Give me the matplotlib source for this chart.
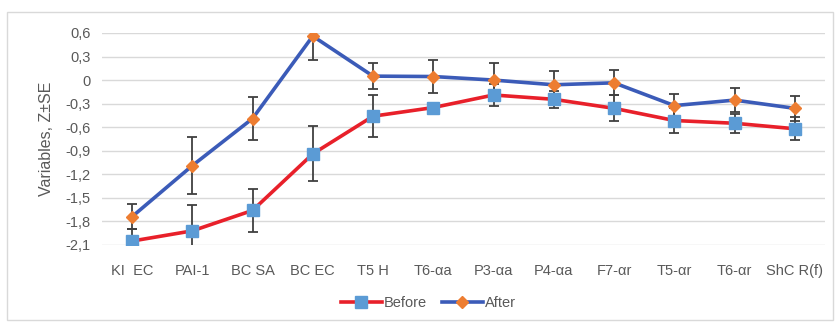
import matplotlib
matplotlib.use("Agg")
import matplotlib.pyplot as plt
from matplotlib.patches import Rectangle
import numpy as np

categories = ["KI  EC", "PAI-1", "BC SA", "BC EC", "T5 H", "T6-\u03b1a", "P3-\u03b1a",
              "P4-\u03b1a", "F7-\u03b1r", "T5-\u03b1r", "T6-\u03b1r", "ShC R(f)"]
before = [-2.05, -1.92, -1.66, -0.94, -0.46, -0.35, -0.19, -0.245, -0.36, -0.515, -0.55, -0.62]
before_se = [0.15, 0.33, 0.27, 0.35, 0.27, 0.03, 0.145, 0.11, 0.165, 0.165, 0.12, 0.145]
after = [-1.74, -1.09, -0.49, 0.56, 0.05, 0.045, 0.0, -0.06, -0.035, -0.325, -0.255, -0.36]
after_se = [0.16, 0.36, 0.27, 0.31, 0.165, 0.21, 0.22, 0.17, 0.16, 0.15, 0.15, 0.16]
yticks = [0.6, 0.3, 0, -0.3, -0.6, -0.9, -1.2, -1.5, -1.8, -2.1]
ytick_labels = ["0,6", "0,3", "0", "-0,3", "-0,6", "-0,9", "-1,2", "-1,5", "-1,8", "-2,1"]

plt.rcParams['font.family'] = ['Liberation Sans', 'DejaVu Sans']

fig = plt.figure(figsize=(8.35, 3.23), dpi=100)
ax = fig.add_axes([0.122, 0.2415, 0.866, 0.6565])

x = np.arange(len(categories))
ebc = "#404040"
ax.errorbar(x, before, yerr=before_se, fmt='none', ecolor=ebc, elinewidth=1.3,
            capsize=3.5, capthick=1.3, zorder=3)
ax.errorbar(x, after, yerr=after_se, fmt='none', ecolor=ebc, elinewidth=1.3,
            capsize=3.5, capthick=1.3, zorder=3)
ax.plot(x, before, color="#e8202a", lw=2.6, marker='s', markersize=8,
        markerfacecolor="#5b9bd5", markeredgecolor="#5b9bd5", label="Before", zorder=4)
ax.plot(x, after, color="#3b5bb8", lw=2.6, marker='D', markersize=6.5,
        markerfacecolor="#ed7d31", markeredgecolor="#ed7d31", label="After", zorder=4)

ax.set_xlim(-0.5, len(categories) - 0.5)
ax.set_ylim(-2.1, 0.6)
ax.set_yticks(yticks)
ax.set_yticklabels(ytick_labels)
ax.set_xticks(x)
ax.set_xticklabels(categories)
ax.tick_params(axis='both', length=0, colors="#595959", labelsize=10.5)
ax.tick_params(axis='x', pad=14)
ax.tick_params(axis='y', pad=8)
ax.grid(axis='y', color="#d9d9d9", lw=1)
ax.set_axisbelow(True)
for s in ax.spines.values():
    s.set_visible(False)
ax.set_ylabel("Variables, Z\u00b1SE", color="#595959", fontsize=11.5, labelpad=8)

leg = fig.legend(loc='center', bbox_to_anchor=(0.513, 0.062), ncol=2, frameon=False,
                 fontsize=10.5, handlelength=2.8, columnspacing=1.0, handletextpad=0.15)
for t in leg.get_texts():
    t.set_color("#595959")

fig.patches.append(Rectangle((7/835, 1-320/323), 826/835, 308/323, transform=fig.transFigure,
                             fill=False, edgecolor="#d9d9d9", lw=1))

fig.savefig("out.png", dpi=100, facecolor="white")
